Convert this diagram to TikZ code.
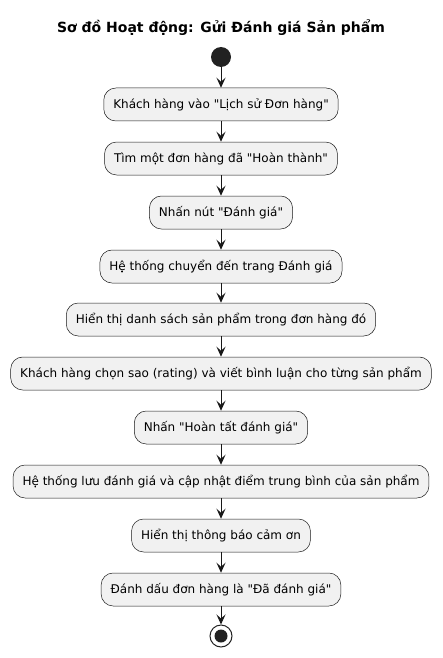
\documentclass[tikz,border=0pt]{standalone}
\usepackage{fontspec}
\setmainfont{DejaVu Sans}
\usetikzlibrary{arrows.meta}
\definecolor{boxfill}{HTML}{F1F1F1}
\definecolor{ink}{HTML}{181818}
\definecolor{dot}{HTML}{222222}
\newcommand{\sq}{\XeTeXglyph\XeTeXcharglyph"22\relax}
\tikzset{
  act/.style={draw=ink, line width=0.5pt, fill=boxfill, rounded corners=12pt,
    minimum height=33pt, inner xsep=9.5pt, font=\fontsize{12}{14}\selectfont, anchor=center},
  flow/.style={draw=ink, line width=1pt, -{Stealth[length=10pt,width=9pt,inset=4pt]}},
}
\begin{document}
\begin{tikzpicture}[x=1pt,y=-1pt]
\useasboundingbox (0,0) rectangle (442,658);
\node[font=\bfseries\fontsize{14}{16}\selectfont] (title) at (221,28) {Sơ đồ Hoạt động: Gửi Đánh giá Sản phẩm};
\node[circle, fill=dot, minimum size=20pt, inner sep=0pt] (start) at (221,57) {};
\node[act] (a1) at (221,104.5) {Khách hàng vào \sq Lịch sử Đơn hàng\sq};
\node[act] (a2) at (221,158.5) {Tìm một đơn hàng đã \sq Hoàn thành\sq};
\node[act] (a3) at (221,212.5) {Nhấn nút \sq Đánh giá\sq};
\node[act] (a4) at (221,266.5) {Hệ thống chuyển đến trang Đánh giá};
\node[act] (a5) at (221,319.5) {Hiển thị danh sách sản phẩm trong đơn hàng đó};
\node[act] (a6) at (221,373.5) {Khách hàng chọn sao (rating) và viết bình luận cho từng sản phẩm};
\node[act] (a7) at (221,427.5) {Nhấn \sq Hoàn tất đánh giá\sq};
\node[act] (a8) at (221,481.5) {Hệ thống lưu đánh giá và cập nhật điểm trung bình của sản phẩm};
\node[act] (a9) at (221,535.5) {Hiển thị thông báo cảm ơn};
\node[act] (a10) at (221,589.5) {Đánh dấu đơn hàng là \sq Đã đánh giá\sq};
\node[circle, draw=dot, line width=1pt, fill=white, minimum size=22pt, inner sep=0pt] (stop) at (221,636) {};
\fill[dot] (stop.center) circle (6.5pt);
\draw[flow] (start) -- (a1);
\draw[flow] (a1) -- (a2);
\draw[flow] (a2) -- (a3);
\draw[flow] (a3) -- (a4);
\draw[flow] (a4) -- (a5);
\draw[flow] (a5) -- (a6);
\draw[flow] (a6) -- (a7);
\draw[flow] (a7) -- (a8);
\draw[flow] (a8) -- (a9);
\draw[flow] (a9) -- (a10);
\draw[flow] (a10) -- (stop);
\end{tikzpicture}
\end{document}
